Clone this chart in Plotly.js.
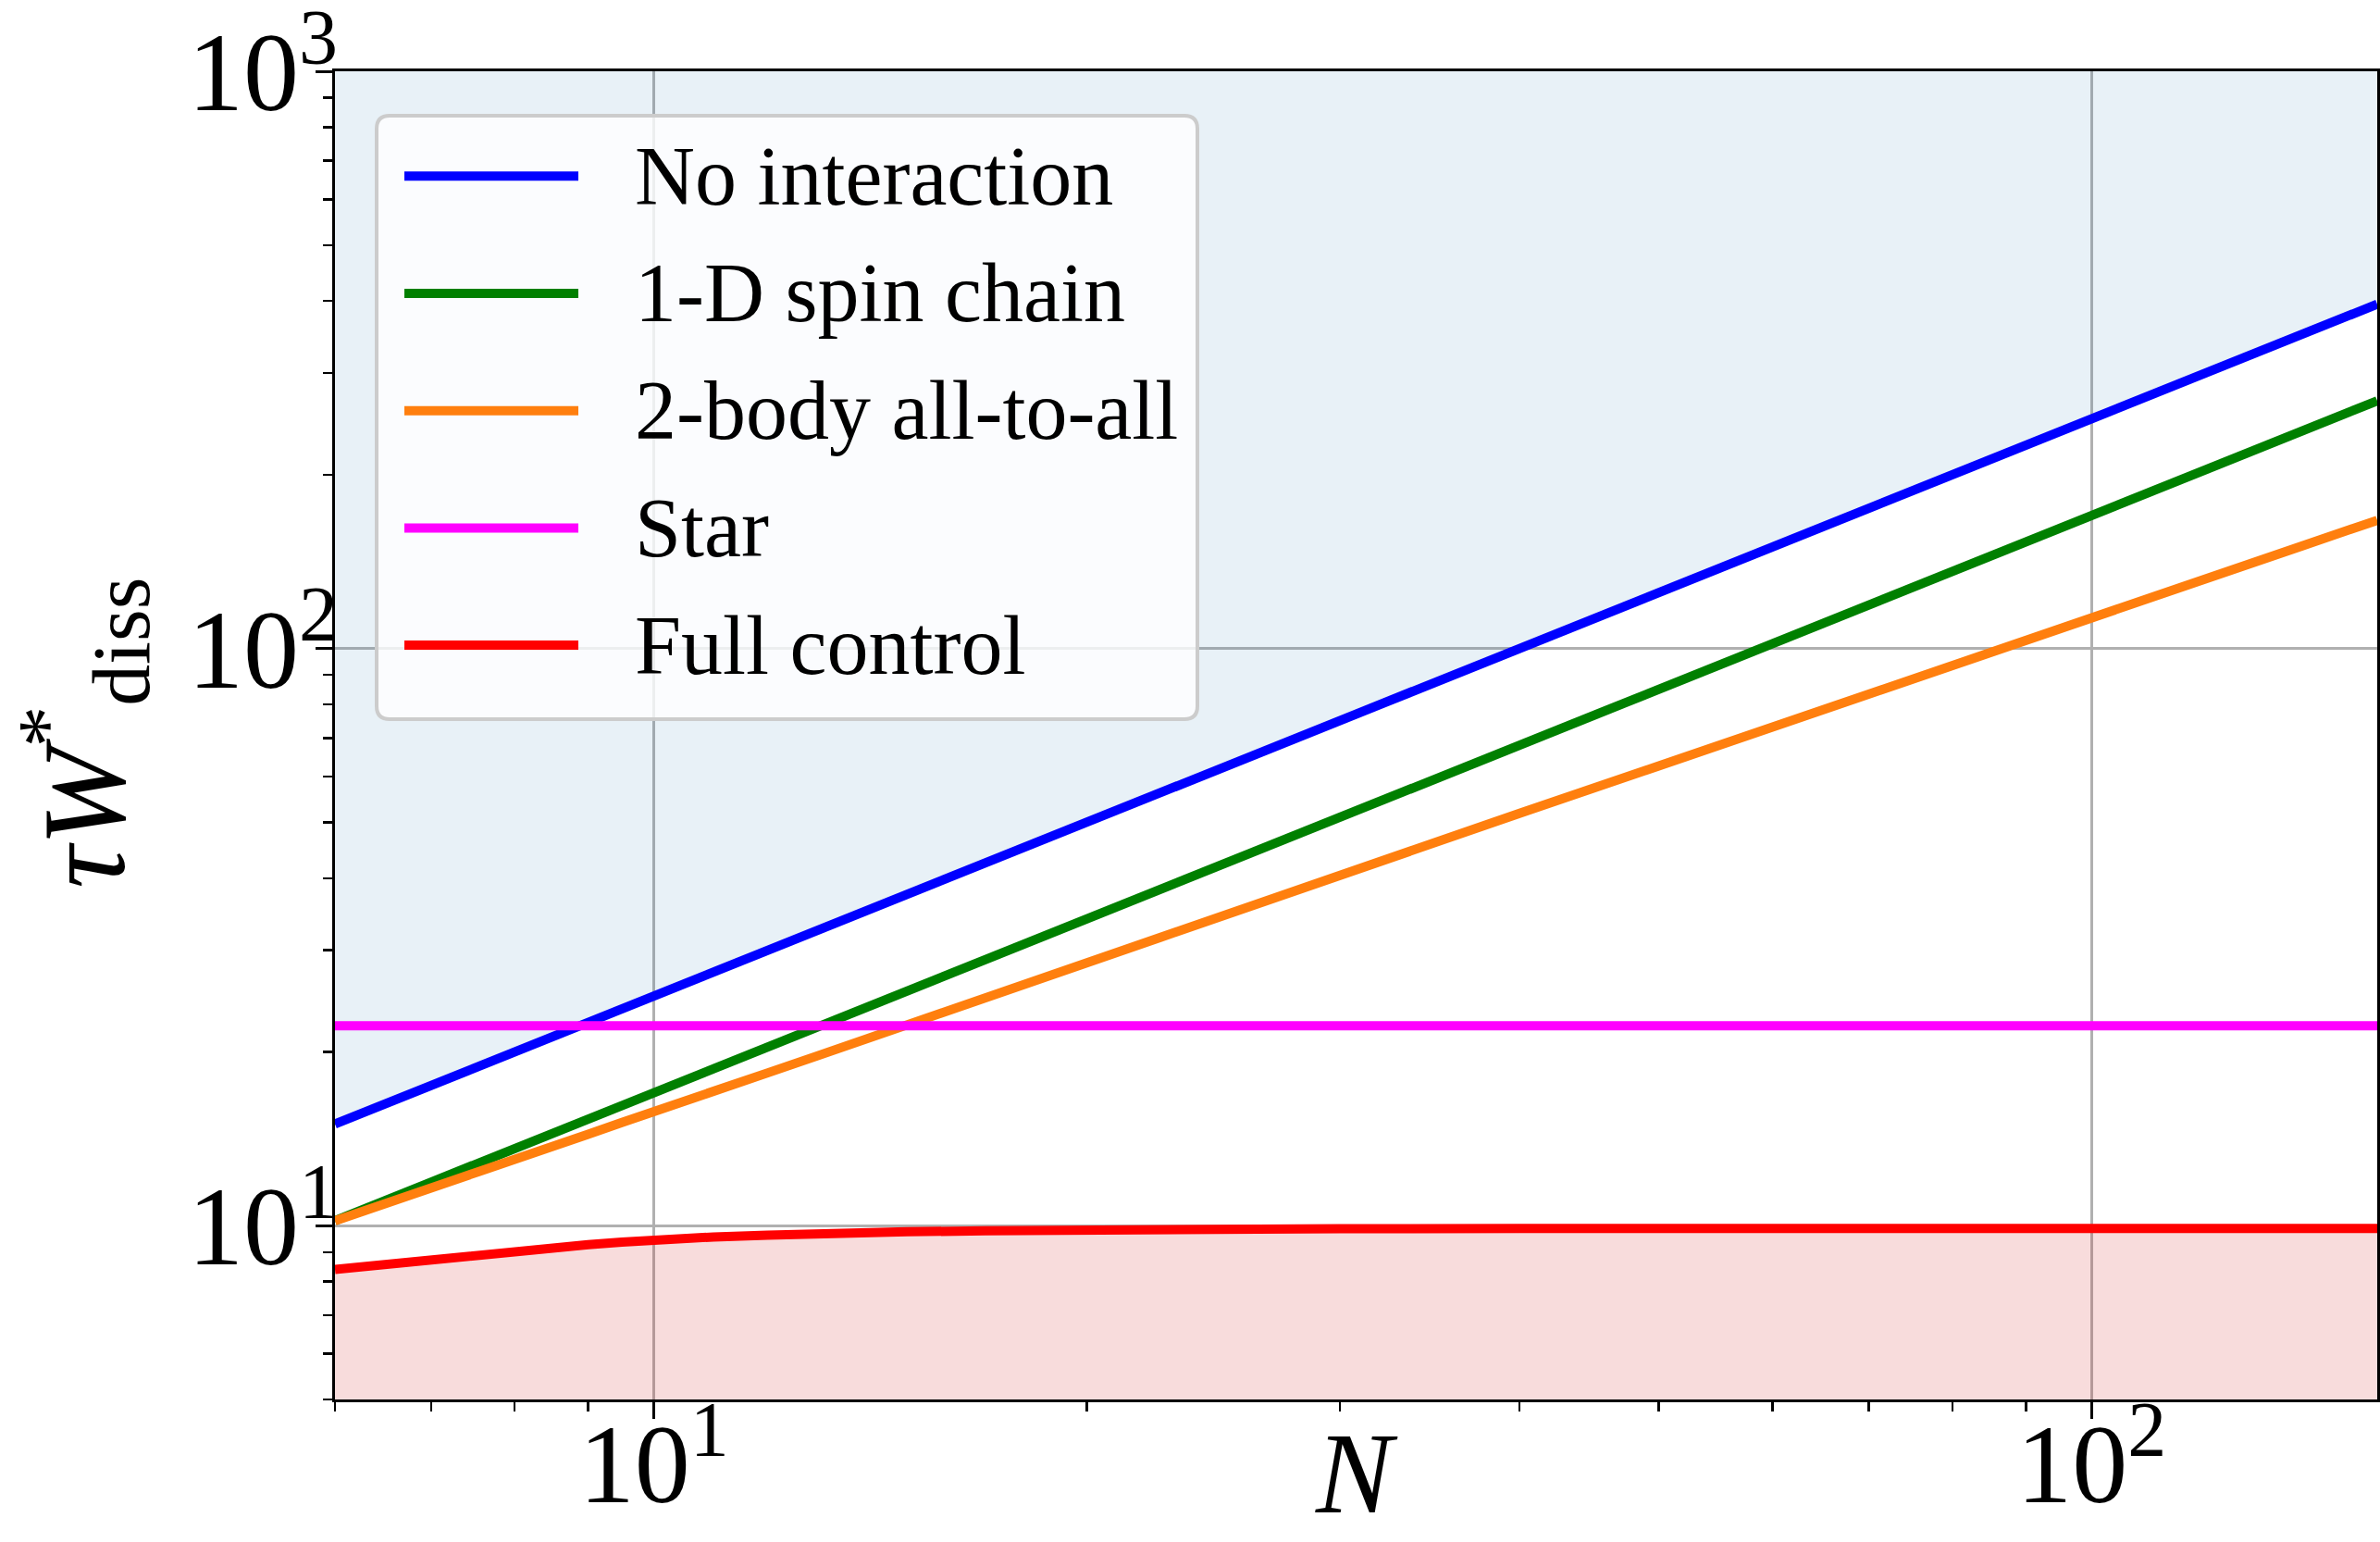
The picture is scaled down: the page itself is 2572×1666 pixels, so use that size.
<!DOCTYPE html>
<html>
<head>
<meta charset="utf-8">
<script src="https://cdn.plot.ly/plotly-3.0.1.min.js"></script>
<style>
  html, body { margin: 0; padding: 0; background: #ffffff; }
  #chart { width: 2572px; height: 1666px; }
</style>
</head>
<body>
<div id="chart"></div>
<script>
// System size N
const N = [6, 6.5, 7, 7.5, 8, 8.5, 9, 9.5, 10, 11, 12, 13, 14, 15, 17, 20, 25, 30, 40, 50, 60, 70, 80, 90, 100, 120, 140, 158];

// tau * W*_diss for each control architecture
const noInteraction = [15.0, 16.25, 17.5, 18.75, 20.0, 21.25, 22.5, 23.75, 25.0, 27.5, 30.0, 32.5, 35.0, 37.5, 42.5, 50.0, 62.5, 75.0, 100, 125, 150, 175, 200, 225, 250, 300, 350, 395];
const spinChain1D   = [10.2, 11.05, 11.9, 12.75, 13.6, 14.45, 15.3, 16.15, 17.0, 18.7, 20.4, 22.1, 23.8, 25.5, 28.9, 34.0, 42.5, 51.0, 68.0, 85.0, 102, 119, 136, 153, 170, 204, 238, 268.6];
const twoBodyAll    = [10.2, 10.9, 11.6, 12.3, 13.0, 13.7, 14.4, 15.1, 15.8, 17.1, 18.4, 19.7, 21.0, 22.3, 24.8, 28.7, 34.8, 40.6, 51.8, 62.6, 73.0, 83.2, 93.4, 103.3, 113.0, 132.0, 150.5, 166.8];
const star          = [22.2, 22.2, 22.2, 22.2, 22.2, 22.2, 22.2, 22.2, 22.2, 22.2, 22.2, 22.2, 22.2, 22.2, 22.2, 22.2, 22.2, 22.2, 22.2, 22.2, 22.2, 22.2, 22.2, 22.2, 22.2, 22.2, 22.2, 22.2];
const fullControl   = [8.40, 8.58, 8.75, 8.90, 9.03, 9.16, 9.27, 9.37, 9.46, 9.56, 9.63, 9.69, 9.73, 9.76, 9.80, 9.84, 9.87, 9.88, 9.89, 9.89, 9.89, 9.89, 9.89, 9.89, 9.89, 9.89, 9.89, 9.89];

const seriesNames  = ['No interaction', '1-D spin chain', '2-body all-to-all', 'Star', 'Full control'];
const seriesValues = [noInteraction, spinChain1D, twoBodyAll, star, fullControl];
const seriesColors = ['#0000ff', '#008000', '#ff7f0e', '#ff00ff', '#ff0000'];

// Axis extents and tick labels
const xRange = [6, 158];
const yRange = [5, 1000];
const xTickVals = [10, 100];
const xTickText = ['10<sup>1</sup>', '10<sup>2</sup>'];
const yTickVals = [10, 100, 1000];
const yTickText = ['10<sup>1</sup>', '10<sup>2</sup>', '10<sup>3</sup>'];
const xMinor = [6, 7, 8, 9, 20, 30, 40, 50, 60, 70, 80, 90];
const yMinor = [5, 6, 7, 8, 9, 20, 30, 40, 50, 60, 70, 80, 90, 200, 300, 400, 500, 600, 700, 800, 900];

const FONT = 'Liberation Serif, Times New Roman, serif';

// Plot-area frame in pixels, used to place the legend box and titles
const PL = 362, PR = 2569, PT = 77, PB = 1512;
const W = 2572, H = 1666;
const px = p => (p - PL) / (PR - PL);
const py = p => 1 - (p - PT) / (PB - PT);
const EPS = 1e-4;

const traces = [];

// Shaded region above the no-interaction line
traces.push({
  x: N.concat(N.slice().reverse()),
  y: noInteraction.concat(N.map(() => yRange[1])),
  mode: 'lines', line: {width: 0}, fill: 'toself',
  fillcolor: 'rgba(31,119,180,0.10)', hoverinfo: 'skip', showlegend: false
});
// Shaded region below the full-control line
traces.push({
  x: N.concat(N.slice().reverse()),
  y: fullControl.concat(N.map(() => yRange[0])),
  mode: 'lines', line: {width: 0}, fill: 'toself',
  fillcolor: 'rgba(214,39,40,0.16)', hoverinfo: 'skip', showlegend: false
});

seriesNames.forEach((name, i) => {
  traces.push({
    x: N, y: seriesValues[i], name: name, mode: 'lines',
    line: {color: seriesColors[i], width: 10}
  });
});

// Legend drawn as a rounded box with line keys and labels
const LB = {x0: 407, x1: 1294, y0: 125, y1: 777, r: 14};
const rx = LB.r / (PR - PL), ry = LB.r / (PB - PT);
const bx0 = px(LB.x0), bx1 = px(LB.x1), by0 = py(LB.y0), by1 = py(LB.y1);
const boxPath =
  `M ${bx0 + rx},${by0} L ${bx1 - rx},${by0} Q ${bx1},${by0} ${bx1},${by0 - ry} ` +
  `L ${bx1},${by1 + ry} Q ${bx1},${by1} ${bx1 - rx},${by1} ` +
  `L ${bx0 + rx},${by1} Q ${bx0},${by1} ${bx0},${by1 + ry} ` +
  `L ${bx0},${by0 - ry} Q ${bx0},${by0} ${bx0 + rx},${by0} Z`;

const shapes = [{
  type: 'path', xref: 'paper', yref: 'paper', path: boxPath,
  fillcolor: 'rgba(255,255,255,0.8)', line: {color: '#cccccc', width: 4}, layer: 'above'
}];
const annotations = [];

const rowY0 = 190.3, rowStep = 126.7;
seriesNames.forEach((name, i) => {
  const yy = py(rowY0 + i * rowStep);
  shapes.push({
    type: 'line', xref: 'paper', yref: 'paper',
    x0: px(437), x1: px(625), y0: yy, y1: yy,
    line: {color: seriesColors[i], width: 10}, layer: 'above'
  });
  annotations.push({
    xref: 'paper', yref: 'paper', x: px(684), y: yy,
    xanchor: 'left', yanchor: 'middle', showarrow: false,
    text: name, font: {family: FONT, size: 90, color: '#000000'}
  });
});

// Axis titles
annotations.push({
  xref: 'paper', yref: 'paper', x: 0.5, y: py(1592),
  xanchor: 'center', yanchor: 'middle', showarrow: false,
  text: '<i>N</i>', font: {family: FONT, size: 124, color: '#000000'}
});
annotations.push({
  xref: 'paper', yref: 'paper', x: px(90), y: py(792),
  xanchor: 'center', yanchor: 'middle', showarrow: false, textangle: -90,
  text: '<i>τW</i><sup>*</sup><sub>diss</sub>', font: {family: FONT, size: 128, color: '#000000'}
});

const axisCommon = {
  type: 'log',
  showline: true, linecolor: '#000000', linewidth: 3, mirror: true,
  ticks: 'outside', ticklen: 18, tickwidth: 3, tickcolor: '#000000',
  showgrid: true, gridcolor: '#b0b0b0', gridwidth: 3,
  zeroline: false, automargin: false, tickmode: 'array',
  ticklabeloverflow: 'allow',
  tickfont: {family: FONT, size: 120, color: '#000000'}
};

const layout = {
  width: W, height: H,
  margin: {l: PL, r: W - PR, t: PT, b: H - PB, pad: 0},
  paper_bgcolor: '#ffffff', plot_bgcolor: '#ffffff',
  showlegend: false,
  xaxis: Object.assign({}, axisCommon, {
    range: [Math.log10(xRange[0]), Math.log10(xRange[1])],
    tickvals: xTickVals, ticktext: xTickText, ticklabelstandoff: -54,
    minor: {tickmode: 'array', tickvals: xMinor, ticks: 'outside', ticklen: 10, tickwidth: 2.5, tickcolor: '#000000', showgrid: false}
  }),
  yaxis: Object.assign({}, axisCommon, {
    range: [Math.log10(yRange[0]), Math.log10(yRange[1]) + EPS],
    tickvals: yTickVals, ticktext: yTickText, ticklabelstandoff: -48,
    minor: {tickmode: 'array', tickvals: yMinor, ticks: 'outside', ticklen: 10, tickwidth: 2.5, tickcolor: '#000000', showgrid: false}
  }),
  shapes: shapes,
  annotations: annotations
};

Plotly.newPlot('chart', traces, layout, {staticPlot: true, displayModeBar: false});
</script>
</body>
</html>
